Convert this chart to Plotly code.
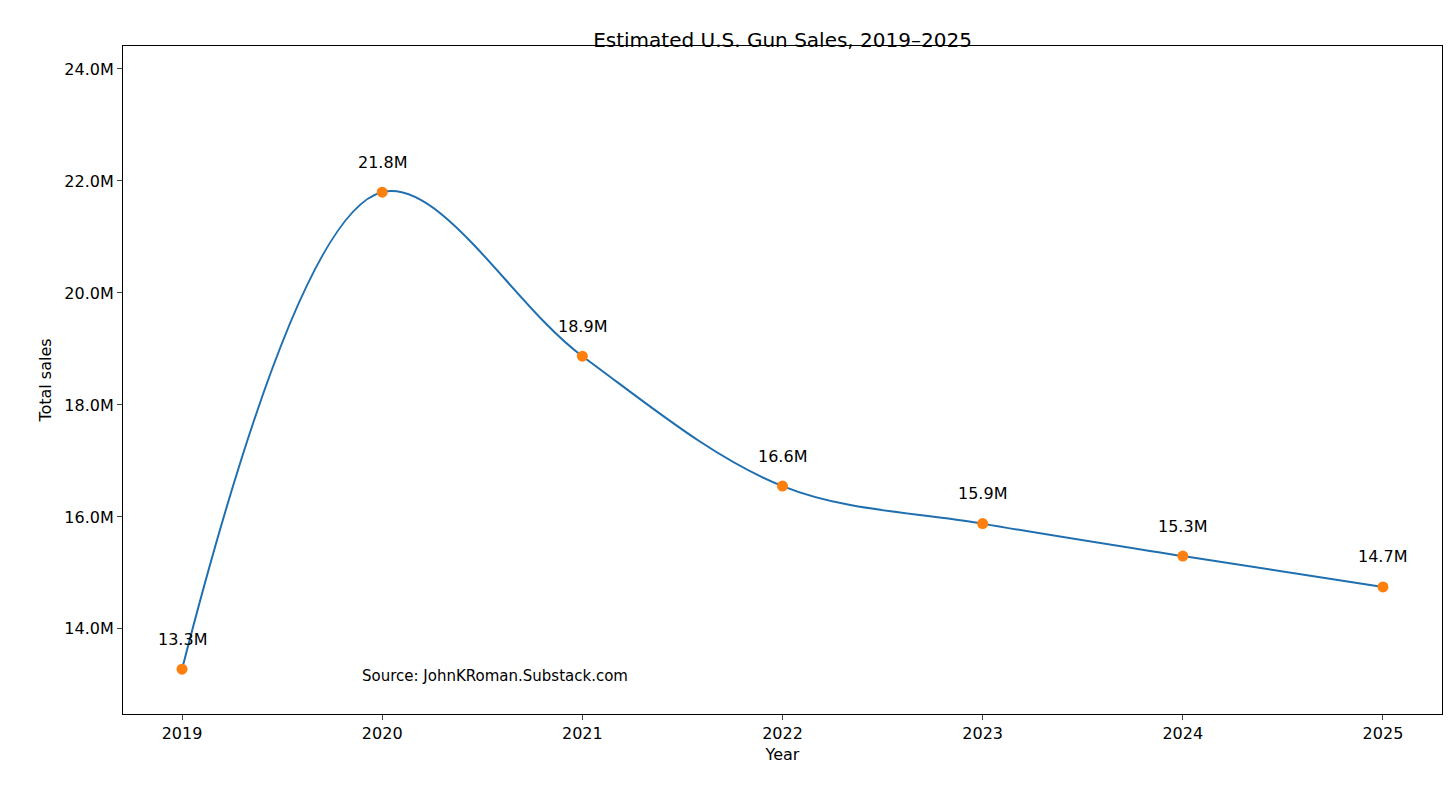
import plotly.graph_objects as go

years = [2019, 2020, 2021, 2022, 2023, 2024, 2025]
sales = [13.28, 21.80, 18.87, 16.55, 15.88, 15.30, 14.75]
labels = ["13.3M", "21.8M", "18.9M", "16.6M", "15.9M", "15.3M", "14.7M"]
yticks = [14, 16, 18, 20, 22, 24]

fig = go.Figure()
fig.add_trace(go.Scatter(x=years, y=sales, mode="lines", line=dict(color="#1f6fb0", width=2, shape="spline", smoothing=1.0), hoverinfo="skip"))
fig.add_trace(go.Scatter(x=years, y=sales, mode="markers", marker=dict(color="#ff7f0e", size=11)))
for x, y, t in zip(years, sales, labels):
    fig.add_annotation(x=x, y=y, text=t, showarrow=False, yshift=30, font=dict(size=16, color="black"))
fig.add_annotation(x=2019.89, y=13.15, text="Source: JohnKRoman.Substack.com", showarrow=False, xanchor="left", font=dict(size=15, color="black"))

fig.update_layout(
    width=1456, height=792, showlegend=False,
    paper_bgcolor="white", plot_bgcolor="white",
    font=dict(family="DejaVu Sans", size=16, color="black"),
    margin=dict(l=115, r=22, t=38, b=86),
    title=dict(text="Estimated U.S. Gun Sales, 2019–2025", x=0.5, xref="paper", y=0.968, font=dict(size=20)),
    xaxis=dict(range=[2018.705, 2025.295], tickvals=years, title=dict(text="Year", standoff=6, font=dict(size=16)),
               showline=True, mirror=True, linecolor="black", ticks="outside", showgrid=False, zeroline=False),
    yaxis=dict(range=[12.48, 24.41], tickvals=yticks, ticktext=[f"{v:.1f}M" for v in yticks],
               title=dict(text="Total sales", standoff=8, font=dict(size=16)),
               showline=True, mirror=True, linecolor="black", ticks="outside", showgrid=False, zeroline=False),
)
fig.write_html("out.html")
